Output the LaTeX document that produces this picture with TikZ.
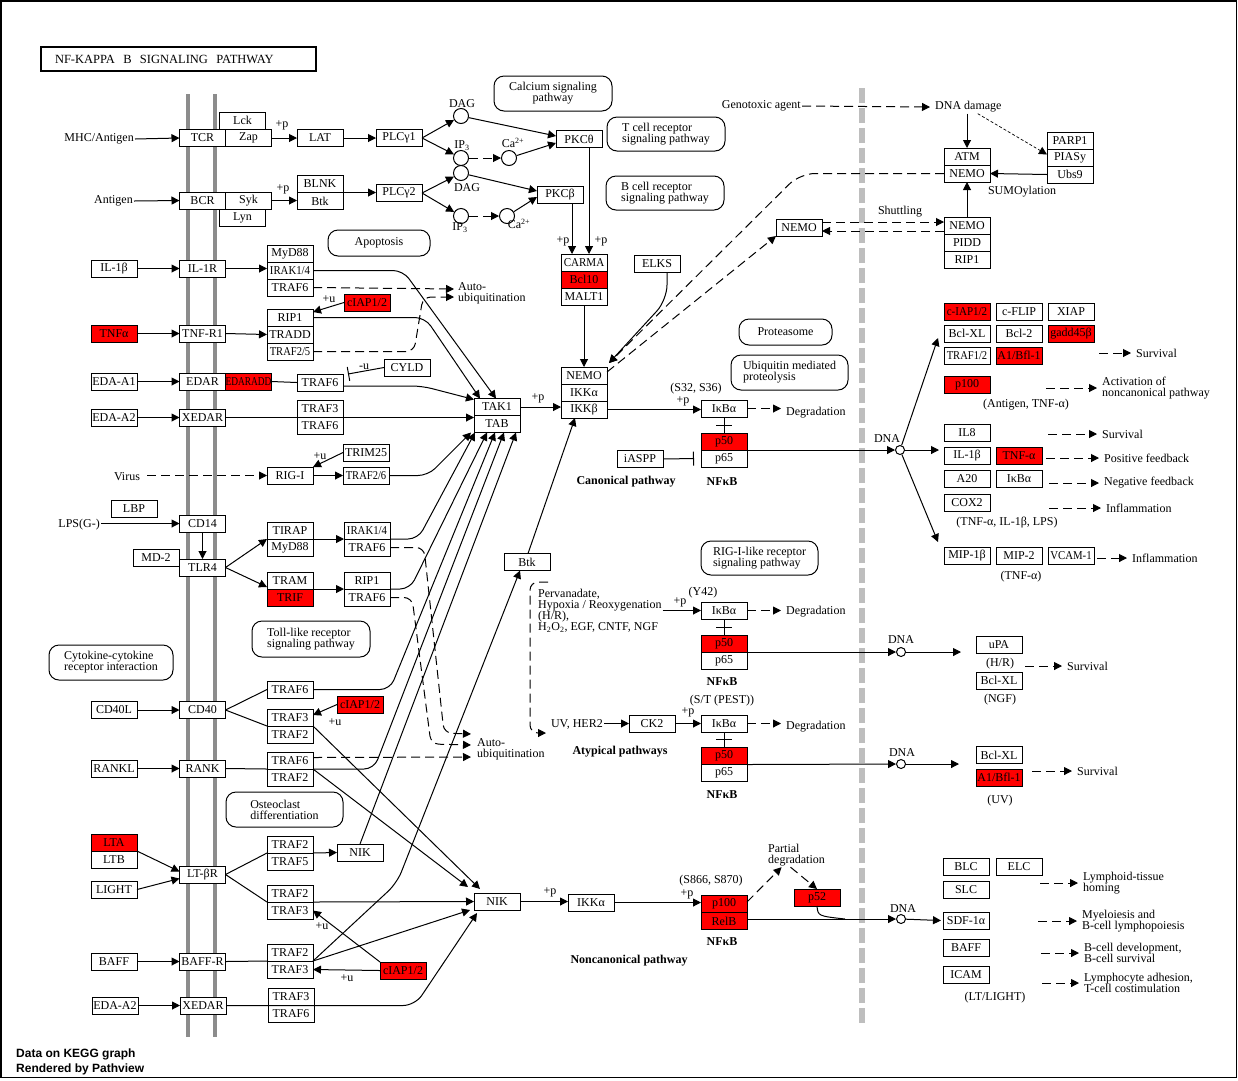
\documentclass[tikz,border=0pt]{standalone}
\usepackage{fontspec}
\setmainfont{Liberation Serif}
\newfontfamily\pathviewfont{Liberation Sans}
\usepackage{graphicx}
\usetikzlibrary{positioning, arrows.meta, calc}

\definecolor{hitred}{HTML}{FF0000}
\definecolor{membgray}{HTML}{8C8C8C}
\definecolor{nucgray}{HTML}{BEBEBE}

\newcommand{\kfont}{\fontsize{12}{11}\selectfont}
\newcommand{\sq}[2]{\scalebox{#1}[1]{#2}}

\tikzset{
	gene/.style={draw, line width=1pt, fill=white, minimum width=46pt, minimum height=17pt, inner sep=0pt, outer sep=0pt, font=\kfont},
	hit/.style={gene, fill=hitred},
	cpd/.style={circle, draw, line width=1pt, fill=white, minimum size=15pt, inner sep=0pt},
	dnac/.style={circle, draw, line width=1pt, fill=white, minimum size=9pt, inner sep=0pt},
	mapbox/.style={draw, line width=1pt, rounded corners=10pt, inner sep=0pt, font=\kfont, align=left},
	lbl/.style={font=\kfont, inner sep=1pt},
	blbl/.style={font=\kfont\bfseries, inner sep=1pt},
	link/.style={line width=1pt},
	act/.style={line width=1pt, -{Triangle[length=8pt,width=8pt]}},
	dact/.style={act, dash pattern=on 9pt off 5pt},
	inh/.style={line width=1pt, -{Bar[width=14pt]}},
	membrane/.style={line width=4pt, draw=membgray},
	nucmem/.style={line width=6pt, draw=nucgray, dash pattern=on 15pt off 5pt},
}

\begin{document}
\begin{tikzpicture}[x=1pt, y=-1pt]
	\useasboundingbox (0,0) rectangle (1238,1080);
	\draw[line width=1.5pt] (1,1) rectangle (1236.5,1077.5);
	% Membranes:
	\draw[membrane] (188,94) -- (188,1037);
	\draw[membrane] (215,94) -- (215,1037);
	\draw[nucmem] (862,88) -- (862,1023);
	\node[draw, line width=2pt, minimum height=24pt, text width=261pt, inner xsep=7pt, align=left, font=\fontsize{12.5}{13}\selectfont] (title) at (178.5,59) {\hspace*{7pt}NF-KAPPA~~B~~SIGNALING~~PATHWAY};

	% Pathway maps:
	\node[mapbox, minimum width=118pt, minimum height=35pt, align=center] (calcium) at (553,93.5) {Calcium signaling\\pathway};
	\node[mapbox, minimum width=118pt, minimum height=34pt] (tcrmap) at (666,134) {T cell receptor\\signaling pathway};
	\node[mapbox, minimum width=118pt, minimum height=34pt] (bcrmap) at (665,193) {B cell receptor\\signaling pathway};
	\node[mapbox, minimum width=102pt, minimum height=26pt] (apopt) at (379,243) {Apoptosis};
	\node[mapbox, minimum width=93pt, minimum height=26pt] (prot) at (785.5,332) {Proteasome};
	\node[mapbox, minimum width=117pt, minimum height=35pt] (ubiq) at (789.5,372.5) {Ubiquitin mediated\\proteolysis};
	\node[mapbox, minimum width=117pt, minimum height=34pt] (riglmap) at (759.5,558) {RIG-I-like receptor\\signaling pathway};
	\node[mapbox, minimum width=118pt, minimum height=36pt] (tollmap) at (311,639) {Toll-like receptor\\signaling pathway};
	\node[mapbox, minimum width=124pt, minimum height=35pt] (cytok) at (111,662.5) {Cytokine-cytokine\\receptor interaction};
	\node[mapbox, minimum width=117pt, minimum height=35pt] (osteo) at (284.5,809.5) {Osteoclast\\differentiation};

	% Receptors, ligands and adaptors:
	\node[lbl, anchor=east] (mhc) at (135,139) {MHC/Antigen};
	\node[gene] (tcr) at (202.5,138) {TCR};
	\node[gene, right=0pt of tcr] (zap) {Zap};
	\node[gene] (lck) at (242.5,120.5) {Lck};
	\node[gene] (lat) at (320,138) {LAT};
	\node[gene] (plcg1) at (399,138) {PLCγ1};
	\node[lbl, anchor=east] (antigen) at (134,201) {Antigen};
	\node[gene] (bcr) at (202.5,200.5) {BCR};
	\node[gene, right=0pt of bcr] (syk) {Syk};
	\node[gene] (lyn) at (242.5,217.5) {Lyn};
	\node[gene] (blnk) at (320,184) {BLNK};
	\node[gene, below=0pt of blnk] (btka) {Btk};
	\node[gene] (plcg2) at (399,193) {PLCγ2};
	\node[gene] (il1b) at (114,268.5) {IL-1β};
	\node[gene] (il1r) at (202.5,268.5) {IL-1R};
	\node[gene] (myd88) at (290,253.5) {MyD88};
	\node[gene, below=0pt of myd88] (irak) {\sq{0.9}{IRAK1/4}};
	\node[gene, below=0pt of irak] (traf6a) {TRAF6};
	\node[hit] (ciap1) at (367,302.5) {cIAP1/2};
	\node[hit] (tnfa) at (114,333.5) {TNFα};
	\node[gene] (tnfr1) at (202.5,333.5) {TNF-R1};
	\node[gene] (rip1a) at (290,317.5) {RIP1};
	\node[gene, below=0pt of rip1a] (tradd) {TRADD};
	\node[gene, below=0pt of tradd] (traf25) {\sq{0.88}{TRAF2/5}};
	\node[gene] (edaa1) at (114,381.5) {EDA-A1};
	\node[gene] (edar) at (202.5,381.5) {EDAR};
	\node[hit, right=0pt of edar] (edaradd) {\sq{0.78}{EDARADD}};
	\node[gene] (traf6e) at (320,382.5) {TRAF6};
	\node[gene] (cyld) at (407,367.5) {CYLD};
	\node[gene] (edaa2) at (114,417.5) {EDA-A2};
	\node[gene] (xedar) at (202.5,417.5) {XEDAR};
	\node[gene] (traf3e) at (320,408.5) {TRAF3};
	\node[gene, below=0pt of traf3e] (traf6f) {TRAF6};
	\node[gene] (trim25) at (366,452.5) {TRIM25};
	\node[gene] (rigi) at (290,475.5) {RIG-I};
	\node[gene] (traf26) at (366,475.5) {\sq{0.88}{TRAF2/6}};
	\node[lbl] (virus) at (127,477) {Virus};
	\node[gene] (lbp) at (134,508.5) {LBP};
	\node[lbl, anchor=east] (lps) at (101,525) {LPS(G-)};
	\node[gene] (cd14) at (202.5,523.5) {CD14};
	\node[gene] (md2) at (156,557.5) {MD-2};
	\node[gene] (tlr4) at (202.5,567.5) {TLR4};
	\node[gene] (tirap) at (290,530.5) {TIRAP};
	\node[gene, below=0pt of tirap] (myd88b) {MyD88};
	\node[gene] (tram) at (290,580.5) {TRAM};
	\node[hit, below=0pt of tram] (trif) {TRIF};
	\node[gene] (irakb) at (367,530.5) {\sq{0.9}{IRAK1/4}};
	\node[gene, below=0pt of irakb] (traf6g) {TRAF6};
	\node[gene] (rip1b) at (367,580.5) {RIP1};
	\node[gene, below=0pt of rip1b] (traf6h) {TRAF6};
	\node[gene] (cd40l) at (114,710) {CD40L};
	\node[gene] (cd40) at (202.5,710) {CD40};
	\node[gene] (traf6c) at (290,689.5) {TRAF6};
	\node[gene] (traf3c) at (290,717.5) {TRAF3};
	\node[gene, below=0pt of traf3c] (traf2c) {TRAF2};
	\node[hit] (ciap2) at (360,704.5) {cIAP1/2};
	\node[gene] (rankl) at (114,768.5) {RANKL};
	\node[gene] (rank) at (202.5,768.5) {RANK};
	\node[gene] (traf6r) at (290,760.5) {TRAF6};
	\node[gene, below=0pt of traf6r] (traf2r) {TRAF2};
	\node[hit] (lta) at (114,842.5) {LTA};
	\node[gene, below=0pt of lta] (ltb) {LTB};
	\node[gene] (light) at (114,889.5) {LIGHT};
	\node[gene] (ltbr) at (202.5,874.5) {LT-βR};
	\node[gene] (traf2l) at (290,844.5) {TRAF2};
	\node[gene, below=0pt of traf2l] (traf5l) {TRAF5};
	\node[gene] (nikl) at (360,852.5) {NIK};
	\node[gene] (traf2m) at (290,893.5) {TRAF2};
	\node[gene, below=0pt of traf2m] (traf3m) {TRAF3};
	\node[gene] (baff) at (114,961.5) {BAFF};
	\node[gene] (baffr) at (202.5,961.5) {BAFF-R};
	\node[gene] (traf2b) at (290,952.5) {TRAF2};
	\node[gene, below=0pt of traf2b] (traf3b) {TRAF3};
	\node[hit] (ciap3) at (403,970.5) {cIAP1/2};
	\node[gene] (edaa2b) at (115,1005.5) {EDA-A2};
	\node[gene] (xedarb) at (203,1005.5) {XEDAR};
	\node[gene] (traf3x) at (291,996.5) {TRAF3};
	\node[gene, below=0pt of traf3x] (traf6x) {TRAF6};

	% Second messengers and kinases:
	\node[cpd] (dag1) at (461,116) {};
	\node[cpd] (ip31) at (461,158) {};
	\node[cpd] (ca1) at (509,158) {};
	\node[cpd] (dag2) at (461,173) {};
	\node[cpd] (ip32) at (461,216) {};
	\node[cpd] (ca2) at (507,216) {};
	\node[lbl] (dag1l) at (462,104) {DAG};
	\node[lbl] (ip31l) at (462,146) {IP\textsubscript{3}};
	\node[lbl] (ca1l) at (513,143) {Ca\textsuperscript{2+}};
	\node[lbl] (dag2l) at (467,188) {DAG};
	\node[lbl] (ip32l) at (460,228) {IP\textsubscript{3}};
	\node[lbl] (ca2l) at (519,224) {Ca\textsuperscript{2+}};
	\node[gene] (pkct) at (579,139) {PKCθ};
	\node[gene] (pkcb) at (560,195) {PKCβ};
	\node[gene] (carma) at (584,262.5) {\sq{0.92}{CARMA}};
	\node[hit, below=0pt of carma] (bcl10) {Bcl10};
	\node[gene, below=0pt of bcl10] (malt1) {MALT1};
	\node[gene] (elks) at (657,264) {ELKS};
	\node[gene] (nemo1) at (799,227.5) {NEMO};
	\node[gene] (nemoi) at (584,375.5) {NEMO};
	\node[gene, below=0pt of nemoi] (ikka) {IKKα};
	\node[gene, below=0pt of ikka] (ikkb) {IKKβ};
	\node[gene] (tak1) at (497,407) {TAK1};
	\node[gene, below=0pt of tak1] (tab) {TAB};
	\node[gene] (ikba1) at (724,408.5) {IκBα};
	\node[hit] (p50a) at (724,441.5) {p50};
	\node[gene, below=0pt of p50a] (p65a) {p65};
	\node[gene] (iaspp) at (640,459) {iASPP};
	\node[gene] (btk) at (527,562) {Btk};
	\node[lbl, anchor=west, align=left] (perv) at (537,610.5) {Pervanadate,\\Hypoxia / Reoxygenation\\(H/R),\\H\textsubscript{2}O\textsubscript{2}, EGF, CNTF, NGF};
	\node[gene] (ikba2) at (724,610.5) {IκBα};
	\node[hit] (p50b) at (724,643.5) {p50};
	\node[gene, below=0pt of p50b] (p65b) {p65};
	\node[lbl, anchor=east] (uvher) at (604,724.5) {UV, HER2};
	\node[gene] (ck2) at (652,723.5) {CK2};
	\node[gene] (ikba3) at (724,723.5) {IκBα};
	\node[hit] (p50c) at (724,756) {p50};
	\node[gene, below=0pt of p50c] (p65c) {p65};
	\node[gene] (nik) at (497,901.5) {NIK};
	\node[gene] (ikkaa) at (591,902.5) {IKKα};
	\node[hit] (p100) at (724,904) {p100};
	\node[hit, below=0pt of p100] (relb) {RelB};
	\node[hit] (p52) at (817,897.5) {p52};
	\node[lbl, anchor=west, align=left] (partial) at (767,855) {Partial\\degradation};
	\node[lbl, anchor=west] (degr1) at (785,413) {Degradation};
	\node[lbl, anchor=west] (degr2) at (785,612) {Degradation};
	\node[lbl, anchor=west] (degr3) at (785,727) {Degradation};
	\node[lbl, anchor=west, align=left] (autou1) at (457,293) {Auto-\\ubiquitination};
	\node[lbl, anchor=west, align=left] (autou2) at (476,749) {Auto-\\ubiquitination};

	% Nucleus side:
	\node[lbl, anchor=east] (genotox) at (802,106) {Genotoxic agent};
	\node[lbl, anchor=west] (dnadmg) at (934,107) {DNA damage};
	\node[gene] (atm) at (967,156.5) {ATM};
	\node[gene, below=0pt of atm] (nemo2) {NEMO};
	\node[gene] (parp1) at (1070,140.5) {PARP1};
	\node[gene, below=0pt of parp1] (piasy) {PIASy};
	\node[gene, below=0pt of piasy] (ubs9) {Ubs9};
	\node[lbl] (sumo) at (1022,192) {SUMOylation};
	\node[lbl] (shuttle) at (900,212) {Shuttling};
	\node[gene] (nemo3) at (967,225.5) {NEMO};
	\node[gene, below=0pt of nemo3] (pidd) {PIDD};
	\node[gene, below=0pt of pidd] (rip1c) {RIP1};
	\node[hit] (ciap4) at (967,311.5) {\sq{0.92}{c-IAP1/2}};
	\node[gene, right=6pt of ciap4] (cflip) {c-FLIP};
	\node[gene, right=6pt of cflip] (xiap) {XIAP};
	\node[gene] (bclxl1) at (967,333.5) {Bcl-XL};
	\node[gene, right=6pt of bclxl1] (bcl2) {Bcl-2};
	\node[hit, right=6pt of bcl2] (gadd) {gadd45β};
	\node[gene] (traf12) at (967,355.5) {\sq{0.88}{TRAF1/2}};
	\node[hit, right=6pt of traf12] (a1a) {A1/Bfl-1};
	\node[hit] (p100b) at (967,384.5) {p100};
	\node[gene] (il8) at (967,432.5) {IL8};
	\node[gene] (il1bb) at (967,455.5) {IL-1β};
	\node[hit, right=6pt of il1bb] (tnfab) {TNF-α};
	\node[gene] (a20) at (967,478.5) {A20};
	\node[gene, right=6pt of a20] (ikbab) {IκBα};
	\node[gene] (cox2) at (967,502.5) {COX2};
	\node[gene] (mip1b) at (967,555.5) {MIP-1β};
	\node[gene, right=6pt of mip1b] (mip2) {MIP-2};
	\node[gene, right=6pt of mip2] (vcam) {\sq{0.9}{VCAM-1}};
	\node[gene] (upa) at (999,644.5) {uPA};
	\node[gene] (bclxl2) at (999,680.5) {Bcl-XL};
	\node[gene] (bclxl3) at (999,755) {Bcl-XL};
	\node[hit] (a1b) at (999,777.5) {A1/Bfl-1};
	\node[gene] (blc) at (966,866.5) {BLC};
	\node[gene, right=7pt of blc] (elc) {ELC};
	\node[gene] (slc) at (966,889.5) {SLC};
	\node[gene] (sdf) at (966,920.5) {SDF-1α};
	\node[gene] (baffb) at (966,947.5) {BAFF};
	\node[gene] (icam) at (966,974.5) {ICAM};
	\node[dnac] (dna1) at (900,450) {};
	\node[dnac] (dna2) at (901,652) {};
	\node[dnac] (dna3) at (901,764) {};
	\node[dnac] (dna4) at (901,919) {};
	\node[lbl] (dnal1) at (887,439) {DNA};
	\node[lbl] (dnal2) at (901,640) {DNA};
	\node[lbl] (dnal3) at (902,753) {DNA};
	\node[lbl] (dnal4) at (903,909) {DNA};

	% Notes and outcomes:
	\node[lbl] (pzap) at (282,125) {+p};
	\node[lbl] (psyk) at (283,189) {+p};
	\node[lbl] (ppkcb) at (563,241) {+p};
	\node[lbl] (ppkct) at (601,241) {+p};
	\node[lbl] (ptak) at (538,398) {+p};
	\node[lbl] (pikk) at (683,401) {+p};
	\node[lbl] (s3236) at (696,389) {(S32, S36)};
	\node[lbl] (py42) at (680,602) {+p};
	\node[lbl] (y42) at (703,593) {(Y42)};
	\node[lbl] (pck2) at (688,712) {+p};
	\node[lbl] (stpest) at (722,701) {(S/T (PEST))};
	\node[lbl] (pnik) at (550,892) {+p};
	\node[lbl] (pikka) at (687,894) {+p};
	\node[lbl] (s866) at (711,881) {(S866, S870)};
	\node[lbl] (uciap1) at (329,299) {+u};
	\node[lbl] (utrim) at (320,456) {+u};
	\node[lbl] (uciap2) at (335,722) {+u};
	\node[lbl] (uciap3a) at (322,926) {+u};
	\node[lbl] (uciap3b) at (347,978) {+u};
	\node[lbl] (ucyld) at (364,367) {-u};
	\node[blbl] (canon) at (626,482) {Canonical pathway};
	\node[blbl] (nfkb1) at (722,482) {NFκB};
	\node[blbl] (nfkb2) at (722,682) {NFκB};
	\node[blbl] (atyp) at (620,752) {Atypical pathways};
	\node[blbl] (nfkb3) at (722,795) {NFκB};
	\node[blbl] (nfkb4) at (722,942) {NFκB};
	\node[blbl] (noncanon) at (629,961) {Noncanonical pathway};
	\node[lbl] (antnf) at (1026,405) {(Antigen, TNF-α)};
	\node[lbl] (tilps) at (1007,523) {(TNF-α, IL-1β, LPS)};
	\node[lbl] (tnfnote) at (1021,577) {(TNF-α)};
	\node[lbl] (hr) at (1000,664) {(H/R)};
	\node[lbl] (ngf) at (1000,700) {(NGF)};
	\node[lbl] (uv) at (1000,801) {(UV)};
	\node[lbl] (ltlight) at (995,998) {(LT/LIGHT)};
	\node[lbl, anchor=west] (surv1) at (1135,353) {Survival};
	\node[lbl, anchor=west, align=left] (actv) at (1101,388) {Activation of\\noncanonical pathway};
	\node[lbl, anchor=west] (surv2) at (1101,434) {Survival};
	\node[lbl, anchor=west] (posfb) at (1103,458) {Positive feedback};
	\node[lbl, anchor=west] (negfb) at (1103,483) {Negative feedback};
	\node[lbl, anchor=west] (infl1) at (1105,508) {Inflammation};
	\node[lbl, anchor=west] (infl2) at (1131,558) {Inflammation};
	\node[lbl, anchor=west] (surv3) at (1066,666) {Survival};
	\node[lbl, anchor=west] (surv4) at (1076,771) {Survival};
	\node[lbl, anchor=west, align=left] (lymph) at (1082,883) {Lymphoid-tissue\\homing};
	\node[lbl, anchor=west, align=left] (myelo) at (1081,921) {Myeloiesis and\\B-cell lymphopoiesis};
	\node[lbl, anchor=west, align=left] (bdev) at (1083,953) {B-cell development,\\B-cell survival};
	\node[lbl, anchor=west, align=left] (ladh) at (1083,983) {Lymphocyte adhesion,\\T-cell costimulation};
	\node[anchor=north west, align=left, inner sep=0pt, font=\pathviewfont\bfseries\fontsize{12}{15}\selectfont] (pview) at (16,1049) {Data on KEGG graph\\Rendered by Pathview};

	% TCR and BCR wires
	\draw[act] (mhc.east) -- (tcr.west);
	\draw[act] (zap.east) -- (lat.west);
	\draw[act] (lat.east) -- (plcg1.west);
	\draw[act] (plcg1.east) -- (dag1);
	\draw[act] (plcg1.east) -- (ip31);
	\draw[act] (dag1) -- ([yshift=3pt]pkct.west);
	\draw[dact] (ip31) -- (ca1);
	\draw[act] (ca1) -- ([yshift=-4pt]pkct.west);
	\draw[act] (antigen.east) -- (bcr.west);
	\draw[act] (syk.east) -- (syk.east -| btka.west);
	\draw[act] (blnk.south east) -- (blnk.south east -| plcg2.west);
	\draw[act] (plcg2.east) -- (dag2);
	\draw[act] (plcg2.east) -- (ip32);
	\draw[act] (dag2) -- ([yshift=4pt]pkcb.west);
	\draw[dact] (ip32) -- (ca2);
	\draw[act] (ca2) -- ([yshift=-2pt]pkcb.west);
	\draw[act] ([xshift=12pt]pkcb.south) -- ([xshift=-12pt]carma.north);
	\draw[act] ([xshift=10pt]pkct.south) -- ([xshift=5pt]carma.north);
	\draw[act] (malt1.south) -- (nemoi.north);
	\draw[act, rounded corners=15pt] ([xshift=10pt]elks.south) -- (667,300) -- ([shift={(2pt,4pt)}]nemoi.north east);
	\draw[dact, rounded corners=15pt] (nemo2.west) -- (800,173.5) -- ([shift={(2pt,4pt)}]nemoi.north east);
	\draw[dact] ([yshift=3.5pt]nemoi.east) -- (nemo1.south west);
	\draw[dact] ([yshift=5.5pt]nemo1.east) -- ([yshift=3.5pt]nemo3.west);
	\draw[dact] ([yshift=-5.5pt]nemo3.west) -- ([yshift=-3.5pt]nemo1.east);
	\draw[act] (nemo3.north) -- (nemo2.south);
	\draw[act] (dnadmg.south -| atm.north) -- (atm.north);
	\draw[act, dash pattern=on 3pt off 2pt, line width=0.7pt] ([xshift=-25pt]dnadmg.south east) -- ([yshift=3pt]piasy.west);
	\draw[act] (ubs9.west) -- (nemo2.east);
	\draw[dact] (genotox.east) -- ([xshift=-4pt]dnadmg.west);

	% IL-1, TNF, EDA, RIG-I
	\draw[act] (il1b.east) -- (il1r.west);
	\draw[act] (il1r.east) -- (il1r.east -| irak.west);
	\draw[act, rounded corners=10pt] (irak.east) -- (403,270.5) -- ([xshift=-1pt]tak1.north);
	\draw[act, rounded corners=10pt] (rip1a.east) -- (425,317.5) -- ([xshift=-17pt]tak1.north);
	\draw[dact] (traf6a.east) -- ([shift={(-3pt,4pt)}]autou1.west);
	\draw[dact, rounded corners=8pt] (traf25.east) -- (414,351.5) -- (423,297) -- ([shift={(-3pt,-4pt)}]autou1.west);
	\draw[act] (ciap1.west) -- ([yshift=-3pt]rip1a.north east);
	\draw[act] (tnfa.east) -- (tnfr1.west);
	\draw[act] (tnfr1.east) -- (tradd.west);
	\draw[act] (edaa1.east) -- (edar.west);
	\draw[link] (edaradd.east) -- (traf6e.west);
	\draw[act, rounded corners=10pt] ([yshift=-3.5pt]traf6e.east) -- (422,386) -- ([yshift=-1pt]tak1.north west);
	\draw[inh] (cyld.west) -- (348,374);
	\draw[act] (edaa2.east) -- (xedar.west);
	\draw[act] (xedar.east) -- (xedar.east -| tak1.west);
	\draw[dact] ([xshift=6pt]virus.east |- rigi.west) -- (rigi.west);
	\draw[act] (rigi.east) -- (traf26.west);
	\draw[act] (trim25.west) -- (rigi.north east);
	\draw[act, rounded corners=10pt] (traf26.east) -- (428,475.5) -- ([xshift=-3pt]tab.south west);

	% TLR4, CD40, RANK, LT, BAFF
	\draw[act] (lps.east |- cd14.west) -- (cd14.west);
	\draw[act] (cd14.south) -- (tlr4.north);
	\draw[act] (tlr4.east) -- (tirap.south west);
	\draw[act] (tlr4.east) -- ([yshift=2pt]tram.south west);
	\draw[act] (tirap.south east) -- (irakb.south west);
	\draw[act] (tram.south east) -- (rip1b.south west);
	\draw[act, rounded corners=10pt] (irakb.south east) -- (418,539) -- ([xshift=-22pt]tab.south);
	\draw[act, rounded corners=10pt] (rip1b.south east) -- (410,589) -- ([xshift=-10pt]tab.south);
	\draw[dact, rounded corners=8pt] (traf6g.east) -- (424,547.5) -- (444,733) -- ([shift={(-5pt,15pt)}]autou2.west);
	\draw[dact, rounded corners=8pt] (traf6h.east) -- (412,597.5) -- (431,744) -- ([shift={(-5pt,4pt)}]autou2.west);
	\draw[act] (cd40l.east) -- (cd40.west);
	\draw[link] (cd40.east) -- (traf6c.west);
	\draw[link] (cd40.east) -- (traf3c.south west);
	\draw[act] (ciap2.west) -- ([yshift=-6pt]traf3c.north east);
	\draw[act, rounded corners=10pt] (traf6c.east) -- (390,689.5) -- ([xshift=-2pt]tab.south);
	\draw[act] (traf3c.south east) -- ([shift={(-17pt,4pt)}]nik.north);
	\draw[act] (rankl.east) -- (rank.west);
	\draw[link] (rank.east) -- (traf6r.south west);
	\draw[dact] ([yshift=3pt]traf6r.east) -- ([shift={(-5pt,-8pt)}]autou2.west);
	\draw[act, rounded corners=10pt] (traf6r.south east) -- (374,769) -- ([xshift=7pt]tab.south);
	\draw[act] (traf6r.south east) -- ([shift={(-6pt,6pt)}]nik.north west);
	\draw[act] (ltb.north east) -- ([yshift=3pt]ltbr.west);
	\draw[act] (light.east) -- ([yshift=-4pt]ltbr.west);
	\draw[link] (ltbr.east) -- (traf2l.south west);
	\draw[link] (ltbr.east) -- (traf2m.south west);
	\draw[act] (traf2l.south east) -- (nikl.west);
	\draw[act] (traf2m.south east) -- (nik.west);
	\draw[act] (nikl.north) -- ([xshift=19pt]tab.south);
	\draw[act] (baff.east) -- (baffr.west);
	\draw[link] (baffr.east) -- (traf2b.south west);
	\draw[act] (ciap3.north west) -- (traf3m.east);
	\draw[act] (ciap3.west) -- (traf3b.east);
	\draw[act] (traf2b.south east) -- ([xshift=-4pt]nik.south west);
	\draw[act, rounded corners=12pt] (traf2b.south east) -- (397,883) -- ([xshift=-7pt]btk.south);
	\draw[act] (edaa2b.east) -- (xedarb.west);
	\draw[act, rounded corners=12pt] (xedarb.east) -- (415,1005.5) -- ([shift={(3pt,-3pt)}]nik.south west);
	\draw[act] ([xshift=1pt]btk.north) -- ([xshift=-9pt]ikkb.south);

	% NF-kB wires
	\draw[act] (tak1.east) -- (tak1.east -| nemoi.west);
	\draw[act] (ikkb.east) -- (ikkb.east -| ikba1.west);
	\draw[inh] (iaspp.east) -- ([xshift=-7pt]p65a.west);
	\draw[act] (p50a.south east) -- (dna1);
	\draw[act] (dna1) -- ([shift={(-6pt,4pt)}]bclxl1.south west);
	\draw[act] (dna1) -- ($(dna1 -| il1bb.west)+(-5pt,0)$);
	\draw[act] (dna1) -- ([shift={(-6pt,5pt)}]mip1b.north west);
	\draw[dact, rounded corners=8pt] (548,582) -- (530,582) -- (530,733) -- (546,733);
	\draw[act] (perv.east |- ikba2.west) -- (ikba2.west);
	\draw[act] (p50b.south east) -- (dna2);
	\draw[act] (dna2) -- ($(dna2 -| upa.west)+(-15pt,0)$);
	\draw[act] (uvher.east |- ck2.west) -- (ck2.west);
	\draw[act] (ck2.east) -- (ikba3.west);
	\draw[act] (p50c.south east) -- (dna3);
	\draw[act] (dna3) -- ($(dna3 -| bclxl3.west)+(-17pt,0)$);
	\draw[act] (nik.east) -- (nik.east -| ikkaa.west);
	\draw[act] (ikkaa.east) -- (ikkaa.east -| p100.west);
	\draw[dact] ([yshift=2pt]p100.east) -- ([xshift=-15pt]partial.south);
	\draw[dact] ([xshift=-6pt]partial.south) -- (p52.north);
	\draw[act] (relb.east |- dna4) -- (dna4);
	\draw[link] (p52.south) .. controls (818,916) .. (845,919);
	\draw[act] (dna4) -- ([xshift=-2pt]sdf.west);
	\foreach \src/\dst in {ikba1/p50a, ikba2/p50b, ikba3/p50c} {
		\draw[link] (\src.south) -- (\dst.north);
		\draw[link] ($(\src.south)!0.5!(\dst.north)+(-8pt,0)$) -- ++(16pt,0);
	}
	\foreach \src/\dst in {ikba1/degr1, ikba2/degr2, ikba3/degr3}
		\draw[dact] (\src.east) -- ($(\src.east -| \dst.west)+(-4pt,0)$);
	\foreach \nm/\len in {surv1/36, actv/55, surv2/53, posfb/57, negfb/54, infl1/56, infl2/34, surv3/41, surv4/44, lymph/42, myelo/43, bdev/42, ladh/41}
		\draw[dact] ([xshift=-\len pt]\nm.west) -- ([xshift=-4pt]\nm.west);
\end{tikzpicture}
\end{document}
